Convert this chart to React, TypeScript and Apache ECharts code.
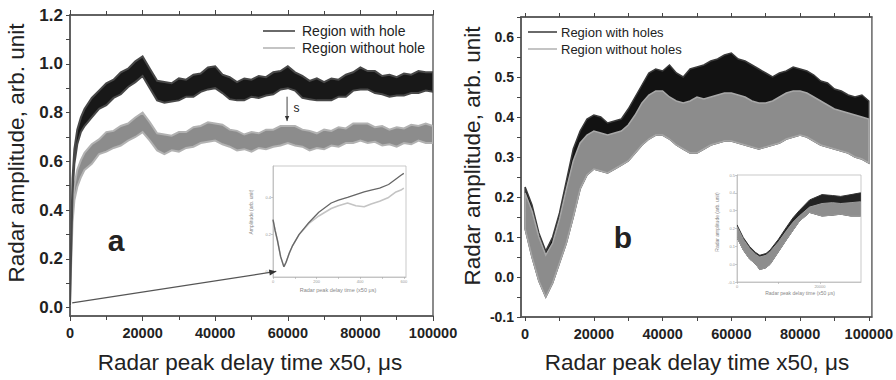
import { useEffect, useRef } from "react";
import * as echarts from "echarts";

// ---------- Panel a (left) ----------
const xA = [0, 300, 700, 1200, 2000, 3000, 4000, 6000, 8000, 10000, 12000, 14000, 16000, 18000, 20000, 22000, 24000, 26000, 28000, 30000, 32000, 34000, 36000, 38000, 40000, 42000, 44000, 46000, 48000, 50000, 52000, 54000, 56000, 58000, 60000, 62000, 64000, 66000, 68000, 70000, 72000, 74000, 76000, 78000, 80000, 82000, 84000, 86000, 88000, 90000, 92000, 94000, 96000, 98000, 100000];
const holeUpperA = [0.03, 0.28, 0.53, 0.65, 0.73, 0.78, 0.815, 0.86, 0.89, 0.92, 0.935, 0.965, 0.98, 1.01, 1.03, 0.98, 0.93, 0.925, 0.92, 0.94, 0.935, 0.955, 0.96, 0.985, 0.99, 0.955, 0.945, 0.925, 0.94, 0.935, 0.95, 0.945, 0.965, 0.97, 0.99, 0.965, 0.95, 0.93, 0.94, 0.925, 0.94, 0.935, 0.955, 0.965, 0.985, 0.97, 0.97, 0.95, 0.955, 0.945, 0.96, 0.955, 0.97, 0.965, 0.965];
const holeLowerA = [0.01, 0.22, 0.47, 0.59, 0.67, 0.72, 0.745, 0.78, 0.815, 0.83, 0.86, 0.875, 0.905, 0.925, 0.95, 0.9, 0.85, 0.84, 0.845, 0.85, 0.865, 0.865, 0.885, 0.895, 0.9, 0.88, 0.855, 0.85, 0.85, 0.865, 0.86, 0.87, 0.875, 0.895, 0.9, 0.89, 0.86, 0.855, 0.85, 0.85, 0.85, 0.865, 0.865, 0.89, 0.895, 0.895, 0.88, 0.875, 0.865, 0.87, 0.87, 0.88, 0.88, 0.89, 0.885];
const noHoleUpperA = [0.03, 0.23, 0.41, 0.5, 0.565, 0.605, 0.635, 0.67, 0.69, 0.72, 0.725, 0.745, 0.755, 0.78, 0.8, 0.76, 0.715, 0.71, 0.705, 0.72, 0.72, 0.74, 0.745, 0.76, 0.755, 0.75, 0.73, 0.725, 0.71, 0.72, 0.715, 0.73, 0.73, 0.745, 0.745, 0.745, 0.73, 0.725, 0.715, 0.73, 0.725, 0.74, 0.735, 0.755, 0.755, 0.755, 0.74, 0.745, 0.73, 0.74, 0.735, 0.75, 0.745, 0.755, 0.745];
const noHoleLowerA = [0.01, 0.17, 0.35, 0.44, 0.495, 0.535, 0.565, 0.59, 0.63, 0.64, 0.655, 0.665, 0.685, 0.7, 0.72, 0.685, 0.645, 0.63, 0.645, 0.64, 0.655, 0.66, 0.675, 0.68, 0.685, 0.67, 0.66, 0.645, 0.65, 0.64, 0.655, 0.65, 0.66, 0.665, 0.675, 0.665, 0.66, 0.645, 0.655, 0.65, 0.665, 0.66, 0.675, 0.675, 0.685, 0.675, 0.68, 0.665, 0.67, 0.66, 0.675, 0.67, 0.685, 0.675, 0.675];
const yLabelsA = [0, 0.2, 0.4, 0.6, 0.8, 1.0, 1.2];
const yTicksA = [0, 0.1, 0.2, 0.3, 0.4, 0.5, 0.6, 0.7, 0.8, 0.9, 1.0, 1.1, 1.2];

// inset a
const xInsetA = [0, 10, 20, 35, 50, 60, 75, 90, 120, 165, 210, 267, 300, 342, 380, 418, 450, 489, 530, 564, 587, 600];
const insetHoleA = [0.28, 0.22, 0.17, 0.08, 0.025, 0.05, 0.1, 0.14, 0.2, 0.265, 0.32, 0.37, 0.385, 0.4, 0.415, 0.43, 0.44, 0.45, 0.47, 0.5, 0.52, 0.53];
const insetNoHoleA = [0.28, 0.22, 0.17, 0.08, 0.025, 0.05, 0.1, 0.14, 0.2, 0.26, 0.3, 0.34, 0.355, 0.37, 0.355, 0.35, 0.365, 0.38, 0.4, 0.43, 0.44, 0.45];
const insetXLabelsA = [0, 200, 400, 600];
const insetXTicksA = [0, 100, 200, 300, 400, 500, 600];
const insetYLabelsA = [0, 0.2, 0.4];

// ---------- Panel b (right) ----------
const xB = [0, 2000, 4000, 6000, 8000, 10000, 12000, 14000, 16000, 18000, 20000, 22000, 24000, 26000, 28000, 30000, 32000, 34000, 36000, 38000, 40000, 42000, 44000, 46000, 48000, 50000, 52000, 54000, 56000, 58000, 60000, 62000, 64000, 66000, 68000, 70000, 72000, 74000, 76000, 78000, 80000, 82000, 84000, 86000, 88000, 90000, 92000, 94000, 96000, 98000, 100000];
const holesUpperB = [0.225, 0.18, 0.11, 0.065, 0.1, 0.16, 0.24, 0.32, 0.365, 0.395, 0.405, 0.4, 0.385, 0.39, 0.395, 0.42, 0.45, 0.48, 0.51, 0.52, 0.515, 0.53, 0.51, 0.5, 0.52, 0.525, 0.53, 0.54, 0.545, 0.555, 0.56, 0.545, 0.54, 0.53, 0.52, 0.51, 0.5, 0.51, 0.515, 0.525, 0.52, 0.515, 0.505, 0.49, 0.485, 0.47, 0.465, 0.455, 0.45, 0.455, 0.44];
const noHolesUpperB = [0.21, 0.165, 0.1, 0.055, 0.085, 0.145, 0.22, 0.29, 0.335, 0.355, 0.365, 0.36, 0.355, 0.36, 0.365, 0.38, 0.405, 0.435, 0.455, 0.465, 0.465, 0.45, 0.44, 0.435, 0.44, 0.45, 0.445, 0.45, 0.455, 0.46, 0.46, 0.455, 0.45, 0.44, 0.435, 0.435, 0.44, 0.45, 0.46, 0.465, 0.465, 0.46, 0.45, 0.44, 0.43, 0.42, 0.415, 0.41, 0.405, 0.4, 0.395];
const noHolesLowerB = [0.12, 0.05, -0.01, -0.05, -0.015, 0.035, 0.085, 0.15, 0.22, 0.255, 0.27, 0.265, 0.26, 0.27, 0.28, 0.29, 0.31, 0.33, 0.345, 0.355, 0.355, 0.345, 0.33, 0.32, 0.31, 0.31, 0.32, 0.33, 0.335, 0.34, 0.34, 0.335, 0.33, 0.325, 0.32, 0.325, 0.33, 0.335, 0.345, 0.35, 0.355, 0.35, 0.34, 0.33, 0.325, 0.32, 0.315, 0.31, 0.3, 0.295, 0.285];
const xLabelsB = [0, 20000, 40000, 60000, 80000, 100000];
const xTicksB = [0, 10000, 20000, 30000, 40000, 50000, 60000, 70000, 80000, 90000, 100000];
const yLabelsB = [-0.1, 0, 0.1, 0.2, 0.3, 0.4, 0.5, 0.6];
const yTicksB = [-0.1, -0.05, 0, 0.05, 0.1, 0.15, 0.2, 0.25, 0.3, 0.35, 0.4, 0.45, 0.5, 0.55, 0.6, 0.65];

// inset b
const xInsetB = [0, 1500, 3000, 4500, 5500, 7000, 8000, 10000, 12000, 13500, 15000, 17500, 20500, 23000, 25000, 27500, 29800];
const insetHolesUpperB = [0.22, 0.15, 0.1, 0.065, 0.05, 0.06, 0.08, 0.14, 0.21, 0.26, 0.3, 0.36, 0.39, 0.385, 0.38, 0.39, 0.4];
const insetNoHolesUpperB = [0.21, 0.14, 0.09, 0.055, 0.04, 0.05, 0.07, 0.125, 0.19, 0.235, 0.27, 0.32, 0.34, 0.345, 0.34, 0.345, 0.35];
const insetNoHolesLowerB = [0.15, 0.08, 0.03, 0.0, -0.03, -0.02, 0.0, 0.07, 0.14, 0.19, 0.24, 0.29, 0.27, 0.275, 0.28, 0.27, 0.27];
const insetXLabelsB = [0, 20000];
const insetXTicksB = [0, 10000, 20000];
const insetYLabelsB = [-0.1, 0, 0.1, 0.2, 0.3, 0.4, 0.5];

const FONT = "'Liberation Sans', Arial, sans-serif";

// A band (noise envelope) drawn as one polygon through the axis scales.
function band(xs: number[], lo: number[], hi: number[], color: string, edge: string, edgeWidth: number, xi: number, yi: number, z: number) {
  return {
    type: "custom",
    xAxisIndex: xi,
    yAxisIndex: yi,
    silent: true,
    z,
    clip: true,
    data: xs.map((x, i) => [x, lo[i], hi[i]]),
    encode: { x: 0, y: [1, 2] },
    renderItem: (params: any, api: any) => {
      if (params.dataIndex !== 0) return null;
      const pts: number[][] = [];
      for (let i = 0; i < xs.length; i++) pts.push(api.coord([xs[i], hi[i]]));
      for (let i = xs.length - 1; i >= 0; i--) pts.push(api.coord([xs[i], lo[i]]));
      return {
        type: "polygon",
        shape: { points: pts },
        style: { fill: color, stroke: edge, lineWidth: edgeWidth, lineJoin: "miter" },
      };
    },
  };
}

const tickLine = { color: "#444", width: 1 };
const fmt1 = (v: number) => v.toFixed(1);
const fmt0 = (v: number) => String(Math.round(v));

export default function App() {
  const ref = useRef<HTMLDivElement>(null);
  useEffect(() => {
    document.body.style.margin = "0";
    const chart = echarts.init(ref.current!, null, { renderer: "svg" });
    const mainLabel = { fontFamily: FONT, fontWeight: "bold", color: "#222" };
    const insetLabel = { fontFamily: FONT, fontSize: 4, color: "#999", margin: 2 };
    const insetLine = { onZero: false, lineStyle: { color: "#bbb", width: 0.8 } };
    const mainLine = { onZero: false, lineStyle: { color: "#555", width: 1.5 } };
    const option: any = {
      animation: false,
      backgroundColor: "#fff",
      grid: [
        { left: 70, top: 15, width: 363, height: 301, show: true, borderColor: "#666", borderWidth: 1.5, z: 0 },
        { left: 521, top: 17, width: 351, height: 300, show: true, borderColor: "#666", borderWidth: 1.5, z: 0 },
        { left: 273, top: 166, width: 133, height: 111, show: true, borderColor: "#bbb", borderWidth: 0.8, backgroundColor: "#fff" },
        { left: 737, top: 175, width: 124, height: 107, show: true, borderColor: "#bbb", borderWidth: 0.8, backgroundColor: "#fff" },
      ],
      xAxis: [
        {
          gridIndex: 0, type: "value", position: "bottom", min: 0, max: 100000, interval: 20000,
          axisLine: mainLine,
          axisTick: { length: 5, lineStyle: tickLine },
          minorTick: { show: true, splitNumber: 2, length: 4, lineStyle: tickLine },
          splitLine: { show: false },
          axisLabel: { ...mainLabel, fontSize: 14.5, margin: 9, formatter: fmt0 },
        },
        {
          gridIndex: 0, type: "value", position: "top", min: 0, max: 100000, interval: 20000,
          axisLine: mainLine,
          axisTick: { length: 5, lineStyle: tickLine },
          minorTick: { show: true, splitNumber: 2, length: 4, lineStyle: tickLine },
          splitLine: { show: false },
          axisLabel: { show: false },
        },
        {
          gridIndex: 1, type: "value", position: "bottom", min: -1200, max: 100900,
          axisLine: mainLine,
          axisTick: { length: 4, lineStyle: tickLine, customValues: xTicksB },
          splitLine: { show: false },
          axisLabel: { ...mainLabel, fontSize: 14.5, margin: 9, customValues: xLabelsB, formatter: fmt0 },
        },
        {
          gridIndex: 1, type: "value", position: "top", min: -1200, max: 100900,
          axisLine: mainLine,
          axisTick: { length: 4, lineStyle: tickLine, customValues: xTicksB },
          splitLine: { show: false },
          axisLabel: { show: false },
        },
        {
          gridIndex: 2, type: "value", position: "bottom", min: 0, max: 610,
          axisLine: insetLine,
          axisTick: { length: 2, lineStyle: { color: "#aaa", width: 0.6 }, customValues: insetXTicksA },
          splitLine: { show: false },
          axisLabel: { ...insetLabel, customValues: insetXLabelsA, formatter: fmt0 },
        },
        {
          gridIndex: 3, type: "value", position: "bottom", min: 0, max: 29900,
          axisLine: insetLine,
          axisTick: { length: 2, lineStyle: { color: "#aaa", width: 0.6 }, customValues: insetXTicksB },
          splitLine: { show: false },
          axisLabel: { ...insetLabel, customValues: insetXLabelsB, formatter: fmt0 },
        },
      ],
      yAxis: [
        {
          gridIndex: 0, type: "value", position: "left", min: -0.034, max: 1.2,
          axisLine: { show: true, ...mainLine },
          axisTick: { show: true, length: 4, lineStyle: tickLine, customValues: yTicksA },
          splitLine: { show: false },
          axisLabel: { ...mainLabel, fontSize: 17, margin: 7, customValues: yLabelsA, formatter: fmt1 },
        },
        {
          gridIndex: 1, type: "value", position: "left", min: -0.1, max: 0.65,
          axisLine: { show: true, ...mainLine },
          axisTick: { show: true, length: 4, lineStyle: tickLine, customValues: yTicksB },
          splitLine: { show: false },
          axisLabel: { ...mainLabel, fontSize: 14, margin: 7, customValues: yLabelsB, formatter: fmt1 },
        },
        {
          gridIndex: 2, type: "value", position: "left", min: -0.03, max: 0.57,
          axisLine: { show: true, ...insetLine },
          axisTick: { show: true, length: 2, lineStyle: { color: "#aaa", width: 0.6 }, customValues: insetYLabelsA },
          splitLine: { show: false },
          axisLabel: { ...insetLabel, customValues: insetYLabelsA, formatter: fmt1 },
        },
        {
          gridIndex: 3, type: "value", position: "left", min: -0.1, max: 0.5,
          axisLine: { show: true, ...insetLine },
          axisTick: { show: true, length: 2, lineStyle: { color: "#aaa", width: 0.6 }, customValues: insetYLabelsB },
          splitLine: { show: false },
          axisLabel: { ...insetLabel, customValues: insetYLabelsB, formatter: fmt1 },
        },
      ],
      series: [
        band(xA, noHoleLowerA, noHoleUpperA, "#8c8c8c", "#b2b2b2", 2, 0, 0, 2),
        band(xA, holeLowerA, holeUpperA, "#181818", "#484848", 2, 0, 0, 3),
        band(xB, noHolesLowerB, holesUpperB, "#121212", "#3a3a3a", 1.5, 2, 1, 2),
        band(xB, noHolesLowerB, noHolesUpperB, "#8c8c8c", "#a8a8a8", 1.5, 2, 1, 3),
        {
          type: "line", xAxisIndex: 4, yAxisIndex: 2, symbol: "none", silent: true, z: 4,
          data: xInsetA.map((x, i) => [x, insetNoHoleA[i]]),
          lineStyle: { color: "#c4c4c4", width: 1.6 },
        },
        {
          type: "line", xAxisIndex: 4, yAxisIndex: 2, symbol: "none", silent: true, z: 5,
          data: xInsetA.map((x, i) => [x, insetHoleA[i]]),
          lineStyle: { color: "#666", width: 1.3 },
        },
        band(xInsetB, insetNoHolesLowerB, insetHolesUpperB, "#222", "#333", 1, 5, 3, 4),
        band(xInsetB, insetNoHolesLowerB, insetNoHolesUpperB, "#8e8e8e", "#9a9a9a", 1, 5, 3, 5),
      ],
    };
    chart.setOption(option);

    const px = (g: number, v: number[]) => chart.convertToPixel({ gridIndex: g } as any, v) as unknown as number[];
    const head = (p: number[], q: number[], len = 7, w = 3) => {
      const dx = q[0] - p[0], dy = q[1] - p[1];
      const L = Math.hypot(dx, dy) || 1;
      const ux = dx / L, uy = dy / L;
      const bx = q[0] - ux * len, by = q[1] - uy * len;
      return [[q[0], q[1]], [bx - uy * w, by + ux * w], [bx + uy * w, by - ux * w]];
    };
    const a1 = px(0, [600, 0.02]);
    const a2 = px(2, [15, 0.0]);
    const s1 = px(0, [59800, 0.865]);
    const s2 = px(0, [59800, 0.765]);
    const sText = px(0, [61600, 0.82]);

    const txt = (text: string, x: number, y: number, size: number, extra: any = {}) => ({
      type: "text", x, y, z: 100,
      style: { text, fontFamily: FONT, fontSize: size, fill: "#222", align: "center", verticalAlign: "middle", ...extra },
    });
    const leg = (x1: number, x2: number, y: number, color: string) => ({
      type: "line", z: 100, shape: { x1, y1: y, x2, y2: y }, style: { stroke: color, lineWidth: 1.6 },
    });

    chart.setOption({
      graphic: [
        { ...txt("Radar amplitude, arb. unit", 16, 153, 22.5), rotation: Math.PI / 2 },
        txt("Radar peak delay time x50, \u03bcs", 250, 362, 22.5),
        { ...txt("Radar amplitude, arb. unit", 472, 156, 22.5), rotation: Math.PI / 2 },
        txt("Radar peak delay time x50, \u03bcs", 697, 362, 22.5),
        txt("a", 116, 240, 30, { fontWeight: "bold" }),
        txt("b", 623, 237, 30, { fontWeight: "bold" }),
        leg(263, 295, 31, "#444"),
        leg(263, 295, 48, "#b5b5b5"),
        txt("Region with hole", 302, 31, 14, { align: "left" }),
        txt("Region without hole", 302, 48, 14, { align: "left" }),
        leg(528, 557, 32, "#444"),
        leg(528, 557, 49, "#b5b5b5"),
        txt("Region with holes", 561, 32, 13, { align: "left" }),
        txt("Region without holes", 561, 49, 13, { align: "left" }),
        txt("Radar peak delay time (x50 \u03bcs)", 338, 290, 5.5, { fill: "#888" }),
        { ...txt("Amplitude (arb. unit)", 251, 212, 5, { fill: "#888" }), rotation: Math.PI / 2 },
        txt("Radar peak delay time (x50 \u03bcs)", 800, 293, 5, { fill: "#888" }),
        { ...txt("Radar amplitude (arb. unit)", 717, 222, 5, { fill: "#888" }), rotation: Math.PI / 2 },
        { type: "line", z: 100, shape: { x1: a1[0], y1: a1[1], x2: a2[0], y2: a2[1] }, style: { stroke: "#555", lineWidth: 1.2 } },
        { type: "polygon", z: 100, shape: { points: head(a1, a2) }, style: { fill: "#333" } },
        { type: "line", z: 100, shape: { x1: s1[0], y1: s1[1], x2: s2[0], y2: s2[1] }, style: { stroke: "#444", lineWidth: 1 } },
        { type: "polygon", z: 100, shape: { points: head(s1, s2, 5, 2.2) }, style: { fill: "#333" } },
        txt("s", sText[0], sText[1], 12, { align: "left" }),
      ],
    });
    return () => chart.dispose();
  }, []);
  return <div ref={ref} style={{ width: 896, height: 380 }} />;
}
